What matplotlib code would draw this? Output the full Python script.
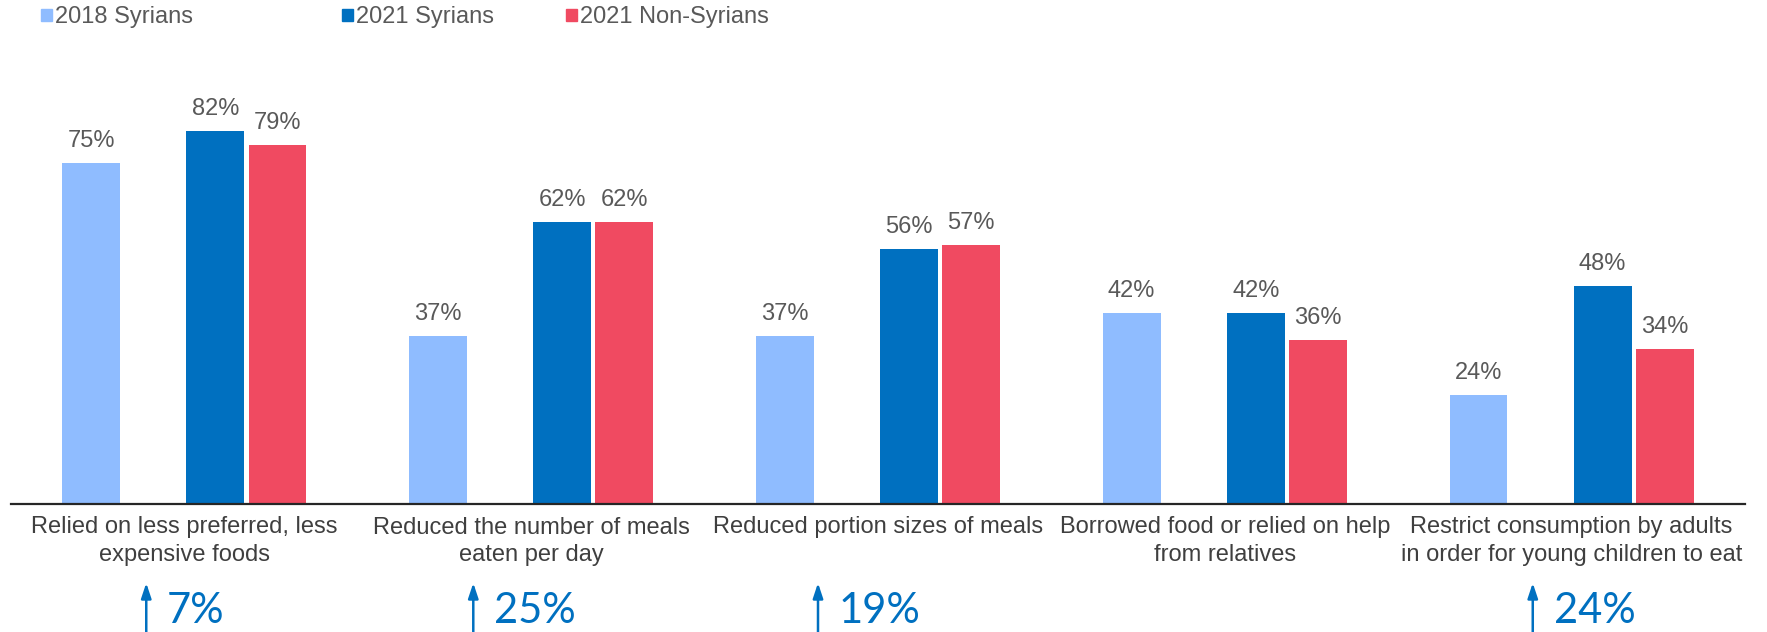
import numpy as np
import matplotlib.pyplot as plt
from matplotlib.patches import Rectangle

plt.rcParams['font.family'] = ['Liberation Sans', 'DejaVu Sans']

# Food-related coping strategies, share of households (%)
categories = [
    "Relied on less preferred, less\nexpensive foods",
    "Reduced the number of meals\neaten per day",
    "Reduced portion sizes of meals",
    "Borrowed food or relied on help\nfrom relatives",
    "Restrict consumption by adults\nin order for young children to eat",
]
syrians_2018 = [75, 37, 37, 42, 24]
syrians_2021 = [82, 62, 56, 42, 48]
non_syrians_2021 = [79, 62, 57, 36, 34]
series_names = ["2018 Syrians", "2021 Syrians", "2021 Non-Syrians"]

# styling
COLORS = ["#8FBCFF", "#0070C0", "#F04A61"]
SLOT = 0.179
OFFSETS = [-1.5 * SLOT, 0.5 * SLOT, 1.5 * SLOT]
BAR_W = 0.167
VALUE_GREY = "#595959"
TEXT_GREY = "#3F3F3F"
ARROW_BLUE = "#0070C0"
ARROW_DX = [-0.11, -0.167, -0.173, -0.14, -0.112]

W, H = 1767, 632
fig = plt.figure(figsize=(W / 100, H / 100), dpi=100)
ax = fig.add_axes([11 / W, 128 / H, 1734 / W, 409.5 / H])

x = np.arange(len(categories))
for vals, off, col in zip([syrians_2018, syrians_2021, non_syrians_2021], OFFSETS, COLORS):
    bars = ax.bar(x + off, vals, width=BAR_W, color=col, linewidth=0)
    for b, v in zip(bars, vals):
        ax.annotate(f"{v}%", (b.get_x() + b.get_width() / 2, v),
                    xytext=(0, 11.5), textcoords="offset points",
                    ha="center", va="baseline", fontsize=17, color=VALUE_GREY)

ax.set_xlim(-0.5, len(categories) - 0.5)
ax.set_ylim(0, 90)
ax.set_yticks([])
ax.set_xticks(x)
ax.set_xticklabels(categories, fontsize=17, color=TEXT_GREY, linespacing=1.32)
ax.tick_params(axis="x", length=0, pad=9)
for side in ["top", "left", "right"]:
    ax.spines[side].set_visible(False)
ax.spines["bottom"].set_color("#262626")
ax.spines["bottom"].set_linewidth(1.6)

# change between 2018 and 2021 Syrians, shown under each group
for i, (a, b) in enumerate(zip(syrians_2018, syrians_2021)):
    change = b - a
    if change <= 0:
        continue
    ax_x = i + ARROW_DX[i]
    ax.annotate("", xy=(ax_x, H - 583), xytext=(ax_x, -10),
                xycoords=("data", "figure pixels"), textcoords=("data", "figure pixels"),
                arrowprops=dict(arrowstyle="-|>,head_length=0.9,head_width=0.3",
                                color=ARROW_BLUE, lw=1.8, shrinkA=0, shrinkB=0),
                annotation_clip=False)
    ax.annotate(f"{change}%", (ax_x, 9), xycoords=("data", "figure pixels"),
                xytext=(15, 0), textcoords="offset points",
                ha="left", va="baseline", fontsize=30, color=ARROW_BLUE,
                family=["Lato", "DejaVu Sans"], annotation_clip=False)

# legend along the top edge
legend_x = [41, 342, 566]
for lx, name, col in zip(legend_x, series_names, COLORS):
    fig.patches.append(Rectangle((lx / W, (H - 21) / H), 11 / W, 12 / H,
                                 transform=fig.transFigure, color=col))
    fig.text((lx + 14) / W, (H - 23) / H, name, fontsize=17, color=VALUE_GREY,
             ha="left", va="baseline")

fig.savefig("out.png", dpi=100, facecolor="white")
